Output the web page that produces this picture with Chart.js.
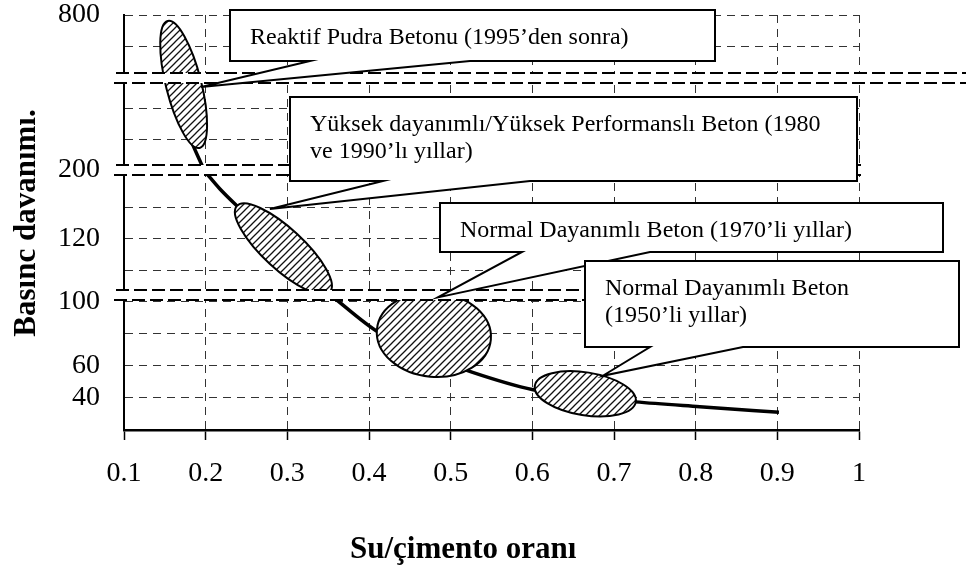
<!DOCTYPE html>
<html>
<head>
<meta charset="utf-8">
<script src="https://cdn.jsdelivr.net/npm/chart.js@4.4.1/dist/chart.umd.min.js"></script>
<style>
  html, body { margin: 0; padding: 0; background: #fff; }
  #wrap { width: 966px; height: 566px; }
</style>
</head>
<body>
<div id="wrap"><canvas id="strengthChart" width="966" height="566"></canvas></div>
<script>
const SERIF = '"Liberation Serif", "Times New Roman", serif';

// water / cement ratio (x axis)
const wcTicks = [0.1, 0.2, 0.3, 0.4, 0.5, 0.6, 0.7, 0.8, 0.9, 1.0];

// the strength axis is broken in four pieces, top to bottom
const topTicks = [800, 700];
const highTicks = [400, 300, 200];
const midTicks = [130, 120, 110];
const lowTicks = [100, 80, 60, 40];
const shownLabels = [800, 200, 120, 100, 60, 40];

// trend curve, one piece per axis segment
const curveHighX = [0.1538, 0.1808, 0.198];
const curveHighY = [493, 304, 200];
const curveMidX = [0.1991, 0.2175, 0.2395, 0.297, 0.3534];
const curveMidY = [141.5, 135.9, 130.2, 116.4, 102.3];
const curveLowX = [0.353, 0.411, 0.474, 0.526, 0.601, 0.664, 0.726, 0.805, 0.902];
const curveLowY = [104, 81, 66, 56, 45, 40.5, 37.5, 34.5, 31];

// concrete generations: hatched regions (ends of the long axis) and callouts
const eraText = [
  ['Reaktif Pudra Betonu (1995’den sonra)'],
  ['Yüksek dayanımlı/Yüksek Performanslı Beton (1980', 've 1990’lı yıllar)'],
  ['Normal Dayanımlı Beton (1970’li yıllar)'],
  ['Normal Dayanımlı Beton', '(1950’li yıllar)']
];
const blobStartX = [0.1535, 0.2383, 0.4097, 0.603];
const blobStartY = [781, 130.5, 82.5, 47.5];
const blobStartAxis = ['yTop', 'yMid', 'yLow', 'yLow'];
const blobEndX = [0.1926, 0.3521, 0.5492, 0.7267];
const blobEndY = [272, 103, 76.25, 37.5];
const blobEndAxis = ['yHigh', 'yMid', 'yLow', 'yLow'];
const blobSpread = [0.27, 0.32, 0.74, 0.42];
const tipX = [0.1944, 0.2787, 0.4843, 0.6863];
const tipY = [470.6, 129.5, 102.5, 53.75];
const tipAxis = ['yHigh', 'yMid', 'yLow', 'yLow'];

// callout boxes: left, top, width, height, wedge base start / end (px)
const boxLayout = [
  [230, 10, 485, 51, 310, 470],
  [290, 97, 567, 84, 383, 530],
  [440, 203, 503, 49, 522, 650],
  [585, 261, 374, 86, 650, 743]
];

const hatchTile = (() => {
  const c = document.createElement('canvas');
  c.width = 7; c.height = 7;
  const g = c.getContext('2d');
  g.strokeStyle = '#111';
  g.lineWidth = 1.3;
  g.beginPath();
  g.moveTo(-1, 8); g.lineTo(8, -1);
  g.moveTo(-1, 1); g.lineTo(1, -1);
  g.moveTo(6, 8); g.lineTo(8, 6);
  g.stroke();
  return c;
})();

function toPx(chart, x, y, axis) {
  return { x: chart.scales.x.getPixelForValue(x), y: chart.scales[axis].getPixelForValue(y) };
}

function segmentAxis(min, max, ticks, weight) {
  return {
    type: 'linear',
    position: 'left',
    stack: 'strength',
    stackWeight: weight,
    min: min,
    max: max,
    afterBuildTicks: s => { s.ticks = ticks.map(v => ({ value: v })); },
    afterFit: s => {
      s.width = 124;
      s.paddingTop = 0;
      s.paddingBottom = 0;
    },
    grid: { color: '#333', lineWidth: 1, drawTicks: false },
    border: { color: '#000', width: 2, dash: [8, 6] },
    ticks: {
      padding: 24,
      autoSkip: false,
      color: '#000',
      font: { family: SERIF, size: 28 },
      callback: v => shownLabels.includes(v) ? String(v) : ''
    }
  };
}

const overlayPlugin = {
  id: 'overlay',
  afterDatasetsDraw(chart) {
    const ctx = chart.ctx;
    const area = chart.chartArea;
    const pattern = ctx.createPattern(hatchTile, 'repeat');

    // hatched regions
    eraText.forEach((t, i) => {
      const a = toPx(chart, blobStartX[i], blobStartY[i], blobStartAxis[i]);
      const b = toPx(chart, blobEndX[i], blobEndY[i], blobEndAxis[i]);
      const rx = Math.hypot(b.x - a.x, b.y - a.y) / 2;
      ctx.save();
      ctx.beginPath();
      ctx.ellipse((a.x + b.x) / 2, (a.y + b.y) / 2, rx, rx * blobSpread[i], Math.atan2(b.y - a.y, b.x - a.x), 0, Math.PI * 2);
      ctx.fillStyle = '#fff';
      ctx.fill();
      ctx.fillStyle = pattern;
      ctx.fill();
      ctx.lineWidth = 2;
      ctx.strokeStyle = '#000';
      ctx.stroke();
      ctx.restore();
    });

    // axis breaks
    ['yTop', 'yHigh', 'yMid'].forEach((id, i) => {
      const yb = chart.scales[id].bottom;
      const right = i === 0 ? chart.width : area.right + 2;
      ctx.save();
      ctx.fillStyle = '#fff';
      ctx.fillRect(113, yb - 5, right - 113, 10);
      ctx.strokeStyle = '#000';
      ctx.lineWidth = 2;
      ctx.setLineDash([13, 5]);
      ctx.beginPath();
      ctx.moveTo(116, yb - 5); ctx.lineTo(right, yb - 5);
      ctx.moveTo(114, yb + 5); ctx.lineTo(right, yb + 5);
      ctx.stroke();
      ctx.restore();
    });

    // callouts
    eraText.forEach((lines, i) => {
      const [bx, by, bw, bh, w1, w2] = boxLayout[i];
      const tip = toPx(chart, tipX[i], tipY[i], tipAxis[i]);
      ctx.save();
      ctx.beginPath();
      ctx.moveTo(bx, by);
      ctx.lineTo(bx + bw, by);
      ctx.lineTo(bx + bw, by + bh);
      ctx.lineTo(w2, by + bh);
      ctx.lineTo(tip.x, tip.y);
      ctx.lineTo(w1, by + bh);
      ctx.lineTo(bx, by + bh);
      ctx.closePath();
      ctx.fillStyle = '#fff';
      ctx.fill();
      ctx.lineWidth = 2;
      ctx.strokeStyle = '#000';
      ctx.lineJoin = 'miter';
      ctx.stroke();
      ctx.fillStyle = '#000';
      ctx.font = '24px ' + SERIF;
      ctx.textAlign = 'left';
      ctx.textBaseline = 'alphabetic';
      lines.forEach((ln, k) => ctx.fillText(ln, bx + 20, by + 34 + k * 27));
      ctx.restore();
    });
  },
  afterDraw(chart) {
    const ctx = chart.ctx;
    ctx.save();
    ctx.fillStyle = '#000';
    ctx.font = 'bold 31px ' + SERIF;
    ctx.textAlign = 'left';
    ctx.textBaseline = 'alphabetic';
    ctx.fillText('Su/çimento oranı', 350, 558);
    ctx.translate(35, 223);
    ctx.rotate(-Math.PI / 2);
    ctx.textAlign = 'center';
    ctx.fillText('Basınc davanımı.', 0, 0);
    ctx.restore();
  }
};

const curvePieces = [
  { xs: curveHighX, ys: curveHighY, axis: 'yHigh' },
  { xs: curveMidX, ys: curveMidY, axis: 'yMid' },
  { xs: curveLowX, ys: curveLowY, axis: 'yLow' }
];

new Chart(document.getElementById('strengthChart').getContext('2d'), {
  type: 'line',
  data: {
    datasets: curvePieces.map(p => ({
      data: p.xs.map((x, i) => ({ x: x, y: p.ys[i] })),
      yAxisID: p.axis,
      borderColor: '#000',
      borderWidth: 3.5,
      pointRadius: 0,
      cubicInterpolationMode: 'monotone',
      fill: false
    }))
  },
  options: {
    responsive: false,
    animation: false,
    events: [],
    layout: { padding: { top: 15, right: 107, bottom: 0, left: 0 } },
    scales: {
      x: {
        type: 'linear',
        min: 0.1,
        max: 1,
        afterBuildTicks: s => { s.ticks = wcTicks.map(v => ({ value: v })); },
        afterFit: s => { s.height = 136; },
        grid: { color: '#333', lineWidth: 1, tickLength: 10, tickColor: '#000', tickWidth: 1.5 },
        border: { color: '#000', width: 2.5, dash: [8, 6] },
        ticks: {
          padding: 17,
          color: '#000',
          autoSkip: false,
          maxRotation: 0,
          font: { family: SERIF, size: 28 },
          callback: v => String(Number(v.toFixed(1)))
        }
      },
      // stacked boxes are placed top-down in reverse order of definition
      yLow: segmentAxis(20, 104, lowTicks, 135),
      yMid: segmentAxis(102, 142, midTicks, 125),
      yHigh: segmentAxis(200, 500, highTicks, 92),
      yTop: segmentAxis(600, 800, topTicks, 63)
    },
    plugins: {
      legend: { display: false },
      tooltip: { enabled: false }
    }
  },
  plugins: [overlayPlugin]
});
</script>
</body>
</html>
